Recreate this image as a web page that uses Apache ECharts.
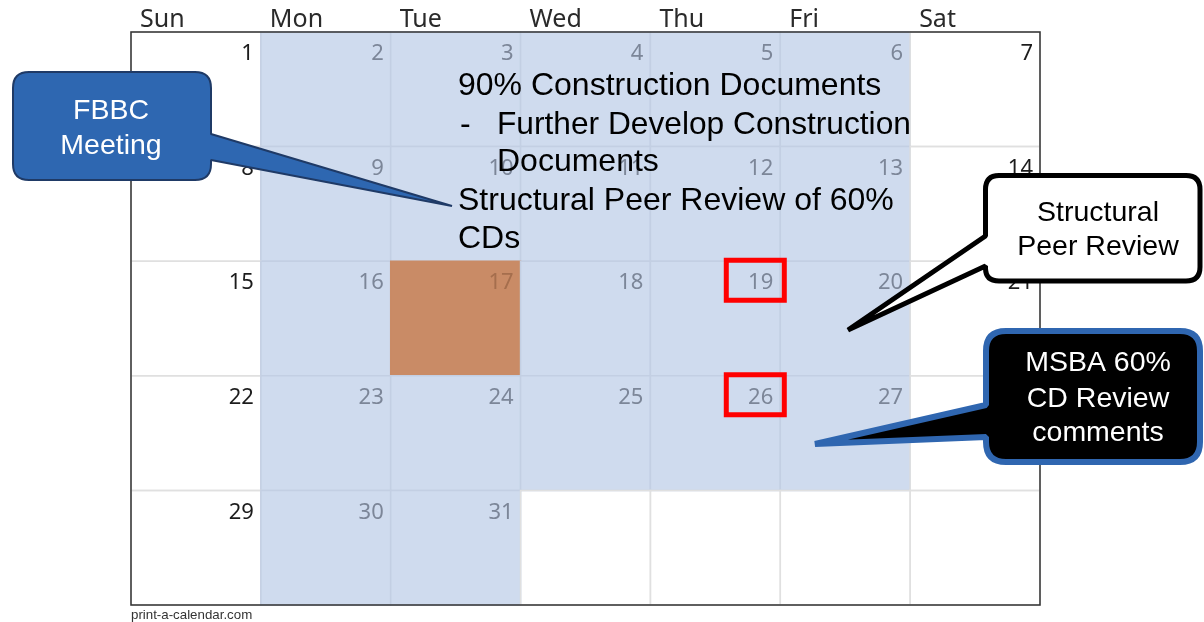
<!DOCTYPE html>
<html>
<head>
<meta charset="utf-8">
<script src="https://cdn.jsdelivr.net/npm/echarts@6/dist/echarts.min.js"></script>
<style>
html,body{margin:0;padding:0;background:#fff;}
#chart{width:1204px;height:622px;}
</style>
</head>
<body>
<div id="chart"></div>
<script>
// ---- data ----
const weekdays = ['Sun', 'Mon', 'Tue', 'Wed', 'Thu', 'Fri', 'Sat'];
const weeks = [
  [1, 2, 3, 4, 5, 6, 7],
  [8, 9, 10, 11, 12, 13, 14],
  [15, 16, 17, 18, 19, 20, 21],
  [22, 23, 24, 25, 26, 27, 28],
  [29, 30, 31, null, null, null, null]
];
const workDays = [2, 3, 4, 5, 6, 9, 10, 11, 12, 13, 16, 17, 18, 19, 20, 23, 24, 25, 26, 27, 30, 31];
const eventDays = [17];
const reviewDays = [19, 26];
const noteLines = [
  '90% Construction Documents',
  'Further Develop Construction',
  'Documents',
  'Structural Peer Review of 60%',
  'CDs'
];
const calloutFBBC = ['FBBC', 'Meeting'];
const calloutPeer = ['Structural', 'Peer Review'];
const calloutMSBA = ['MSBA 60%', 'CD Review', 'comments'];

// ---- build series data ----
const cellData = [];
weeks.forEach(function (week, row) {
  week.forEach(function (day, col) {
    let kind = 0;
    if (day !== null && eventDays.indexOf(day) >= 0) kind = 2;
    else if (day !== null && workDays.indexOf(day) >= 0) kind = 1;
    cellData.push([col, row, day === null ? -1 : day, kind]);
  });
});
const reviewData = [];
weeks.forEach(function (week, row) {
  week.forEach(function (day, col) {
    if (reviewDays.indexOf(day) >= 0) reviewData.push([col, row, day]);
  });
});

const BLUE = '#cfdbee';
const ORANGE = '#c98b66';
const NUMFONT = '"Noto Sans", "DejaVu Sans", sans-serif';
const SANS = '"Liberation Sans", Arial, sans-serif';

function renderCell(params, api) {
  const col = api.value(0), row = api.value(1), day = api.value(2), kind = api.value(3);
  const p0 = api.coord([col, row]);
  const p1 = api.coord([col + 1, row + 1]);
  const fill = kind === 1 ? BLUE : (kind === 2 ? ORANGE : 'rgba(255,255,255,0)');
  const stroke = kind === 0 ? '#e0e0e0' : (kind === 1 ? '#c3cfe3' : ORANGE);
  const children = [{
    type: 'rect',
    shape: { x: p0[0], y: p0[1], width: p1[0] - p0[0], height: p1[1] - p0[1] },
    style: { fill: fill, stroke: stroke, lineWidth: 1.5 }
  }];
  if (day > 0) {
    const color = kind === 0 ? '#1c1c1c' : (kind === 1 ? '#7c8698' : '#a56e4d');
    children.push({
      type: 'text',
      style: {
        text: String(day), x: p1[0] - 7, y: p0[1] + 22,
        align: 'right', verticalAlign: 'middle',
        fill: color, font: '22px ' + NUMFONT
      }
    });
  }
  return { type: 'group', children: children };
}

function renderReview(params, api) {
  const col = api.value(0), row = api.value(1);
  const p0 = api.coord([col, row]);
  const p1 = api.coord([col + 1, row + 1]);
  return {
    type: 'rect',
    shape: { x: p1[0] - 54, y: p0[1] - 1, width: 58, height: 40 },
    style: { fill: 'none', stroke: '#ff0000', lineWidth: 5 }
  };
}

function renderFrame(params, api) {
  const p0 = api.coord([0, 0]);
  const p1 = api.coord([weekdays.length, weeks.length]);
  return {
    type: 'rect',
    shape: { x: p0[0], y: p0[1], width: p1[0] - p0[0], height: p1[1] - p0[1] },
    style: { fill: 'none', stroke: '#333', lineWidth: 1.5 }
  };
}

function txt(text, x, y, size, color, align) {
  return {
    type: 'text',
    style: {
      text: text, x: x, y: y,
      align: align || 'left', verticalAlign: 'middle',
      fill: color, font: size + 'px ' + SANS
    }
  };
}

function renderNotes(params, api) {
  return {
    type: 'group',
    children: [
      txt(noteLines[0], 458, 86, 32, '#000'),
      txt('-', 460, 125, 32, '#000'),
      txt(noteLines[1], 497, 125, 31.7, '#000'),
      txt(noteLines[2], 497, 162, 32, '#000'),
      txt(noteLines[3], 458, 201, 32, '#000'),
      txt(noteLines[4], 458, 239, 32, '#000'),
      {
        type: 'path',
        shape: { pathData: 'M 29 72 L 195 72 Q 211 72 211 88 L 211 134 L 452 206 L 211 160 L 211 164 Q 211 180 195 180 L 29 180 Q 13 180 13 164 L 13 88 Q 13 72 29 72 Z' },
        style: { fill: '#2e67b1', stroke: '#1f3a66', lineWidth: 2, lineJoin: 'bevel' }
      },
      txt(calloutFBBC[0], 111, 111, 28.5, '#fff', 'center'),
      txt(calloutFBBC[1], 111, 146, 28.5, '#fff', 'center'),
      {
        type: 'path',
        shape: { pathData: 'M 999 175.5 L 1186 175.5 Q 1200 175.5 1200 189.5 L 1200 267 Q 1200 281 1186 281 L 999 281 Q 985.5 281 985.5 268 L 985.5 266 L 848 330 L 985.5 236 L 985.5 189.5 Q 985.5 175.5 999 175.5 Z' },
        style: { fill: '#fff', stroke: '#000', lineWidth: 5, lineJoin: 'bevel' }
      },
      txt(calloutPeer[0], 1098, 213, 28.5, '#000', 'center'),
      txt(calloutPeer[1], 1098, 247, 28.5, '#000', 'center'),
      {
        type: 'path',
        shape: { pathData: 'M 1006 331 L 1180 331 Q 1200 331 1200 351 L 1200 442 Q 1200 462 1180 462 L 1006 462 Q 986 462 986 442 L 986 437 L 815 444 L 986 405 L 986 351 Q 986 331 1006 331 Z' },
        style: { fill: '#000', stroke: '#2f66b0', lineWidth: 6, lineJoin: 'bevel' }
      },
      txt(calloutMSBA[0], 1098, 363, 28.5, '#fff', 'center'),
      txt(calloutMSBA[1], 1098, 399, 28.5, '#fff', 'center'),
      txt(calloutMSBA[2], 1098, 433, 28.5, '#fff', 'center'),
      txt('print-a-calendar.com', 131, 615, 13.3, '#333')
    ]
  };
}

const chart = echarts.init(document.getElementById('chart'));
chart.setOption({
  animation: false,
  backgroundColor: '#fff',
  grid: { left: 131, right: 164, top: 32, bottom: 17 },
  xAxis: {
    type: 'value', min: 0, max: weekdays.length, interval: 1, position: 'top',
    axisLine: { show: false }, axisTick: { show: false }, splitLine: { show: false },
    axisLabel: {
      show: true, margin: 0, align: 'left', padding: [0, 0, 0, 9],
      color: '#2a2a2a', fontFamily: '"Noto Sans", "DejaVu Sans", sans-serif', fontSize: 25,
      formatter: function (v) { return weekdays[v] || ''; }
    }
  },
  yAxis: {
    type: 'value', min: 0, max: weeks.length, interval: 1, inverse: true,
    axisLine: { show: false }, axisTick: { show: false }, splitLine: { show: false },
    axisLabel: { show: false }
  },
  series: [
    { type: 'custom', renderItem: renderCell, data: cellData, z: 2, clip: false },
    { type: 'custom', renderItem: renderFrame, data: [[0, 0]], z: 3, clip: false },
    { type: 'custom', renderItem: renderReview, data: reviewData, z: 4, clip: false },
    { type: 'custom', renderItem: renderNotes, data: [[0, 0]], z: 10, clip: false, silent: true }
  ]
});
</script>
</body>
</html>
